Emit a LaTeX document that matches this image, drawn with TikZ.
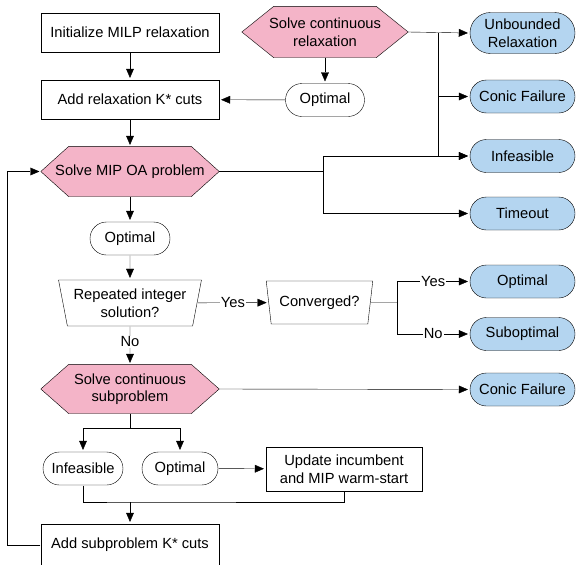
\documentclass[tikz,border=0pt]{standalone}
\usepackage{fontspec}
\setmainfont{Liberation Sans}
\usetikzlibrary{arrows.meta, shapes.misc, shapes.geometric, backgrounds, positioning}

\definecolor{hexpink}{RGB}{244,180,200}
\definecolor{endblue}{RGB}{180,213,240}

% hexagon outline behind a named node: #1 node, #2 cut of the pointed ends
\newcommand{\hexback}[2]{%
	\draw[-, fill=hexpink] (#1.west) -- ([xshift=#2]#1.north west) -- ([xshift=-#2]#1.north east)
		-- (#1.east) -- ([xshift=-#2]#1.south east) -- ([xshift=#2]#1.south west) -- cycle;}

\begin{document}
\begin{tikzpicture}[x=1pt, y=-1pt, font=\fontsize{14.7}{17.5}\selectfont]
	\tikzset {->, >={Triangle[length=11pt, width=9pt]}, line width=1.4pt,
		box/.style={draw, rectangle, minimum width=178pt, minimum height=39pt, align=center, inner sep=2pt},
		hex/.style={rectangle, minimum width=177pt, minimum height=49pt, align=center, inner sep=1pt},
		pill/.style={draw, rounded rectangle, minimum width=84pt, minimum height=33pt, align=center, inner sep=2pt},
		stop/.style={pill, fill=endblue, minimum width=109pt},
		trap/.style={draw, trapezium, trapezium left angle=75, trapezium right angle=75, shape border rotate=180, trapezium stretches=true, align=center, inner sep=1pt},
		lbl/.style={fill=white, inner sep=1pt}
	}
	\clip (0,0) rectangle (582,565);

	\node[box] (init) at (130,32.5) {Initialize MILP relaxation};
	\node[box] (addrel) at (130,99.5) {Add relaxation K* cuts};
	\node[hex] (mipoa) at (130,171.5) {Solve MIP OA problem};
	\node[hex, minimum width=165pt, minimum height=50pt] (contrel) at (325,32) {Solve continuous\\relaxation};
	\node[pill, minimum width=83pt] (opt1) at (325,100) {Optimal};

	\node[stop, minimum height=41pt] (unb) at (522.5,33) {Unbounded\\Relaxation};
	\node[stop] (conic1) at (522.5,96.5) {Conic Failure};
	\node[stop] (infeas1) at (522.5,156) {Infeasible};
	\node[stop] (timeout) at (522.5,213.5) {Timeout};

	\node[pill] (opt2) at (130,238.5) {Optimal};
	\node[trap, minimum width=143pt, minimum height=46pt] (rep) at (130,303) {Repeated integer\\solution?};
	\node[trap, minimum width=107pt, minimum height=43pt] (conv) at (319.5,302.5) {Converged?};
	\node[stop] (optb) at (522.5,281.5) {Optimal};
	\node[stop] (subopt) at (522.5,334) {Suboptimal};

	\node[hex, minimum height=48pt] (subprob) at (130,389) {Solve continuous\\subproblem};
	\node[stop] (conic2) at (522.5,389.5) {Conic Failure};

	\node[pill] (infeas2) at (83,468.5) {Infeasible};
	\node[pill, minimum width=80pt] (opt3) at (180,468.5) {Optimal};
	\node[box, minimum width=156pt, minimum height=44pt] (update) at (344,469) {Update incumbent\\and MIP warm-start};
	\node[box, minimum height=42pt] (addsub) at (130,545) {Add subproblem K* cuts};

	\begin{scope}[on background layer]
		\hexback{mipoa}{28pt}
		\hexback{contrel}{32pt}
		\hexback{subprob}{28pt}
	\end{scope}

	% branch points
	\coordinate (b1) at (438,33);
	\coordinate (b2) at (323,171.5);
	\coordinate (b3) at (397,302.5);
	\coordinate (b4) at (130,428);
	\coordinate (j) at (130,502);

	\draw (init) -- (addrel);
	\draw (addrel) -- (mipoa);
	\draw (contrel) -- (opt1);
	\draw (opt1) -- (addrel);
	\draw (contrel.east) -- (unb.west);
	\draw (b1) |- (conic1.west);
	\draw (b1) |- (infeas1.west);
	\draw[-] (mipoa.east) -- (b2);
	\draw (b2) |- (infeas1.west);
	\draw (b2) |- (timeout.west);

	\draw (mipoa) -- (opt2);
	\draw (opt2) -- (rep);
	\draw (rep) -- node[lbl, pos=0.4] {No} (subprob);
	\draw (rep) -- node[lbl] {Yes} (conv);
	\draw[-] (conv.east) -- (b3);
	\draw (b3) |- node[lbl, pos=0.75] {Yes} (optb.west);
	\draw (b3) |- node[lbl, pos=0.75] {No} (subopt.west);
	\draw (subprob.east) -- (conic2.west);

	\draw[-] (subprob) -- (b4);
	\draw (b4) -| (infeas2.north);
	\draw (b4) -| (opt3.north);
	\draw (opt3) -- (update);
	\draw[-] (infeas2.south) |- (j) -| (update.south);
	\draw (j) -- (addsub);
	\draw (addsub.west) -- ++(-33,0) |- (mipoa.west);
\end{tikzpicture}
\end{document}
